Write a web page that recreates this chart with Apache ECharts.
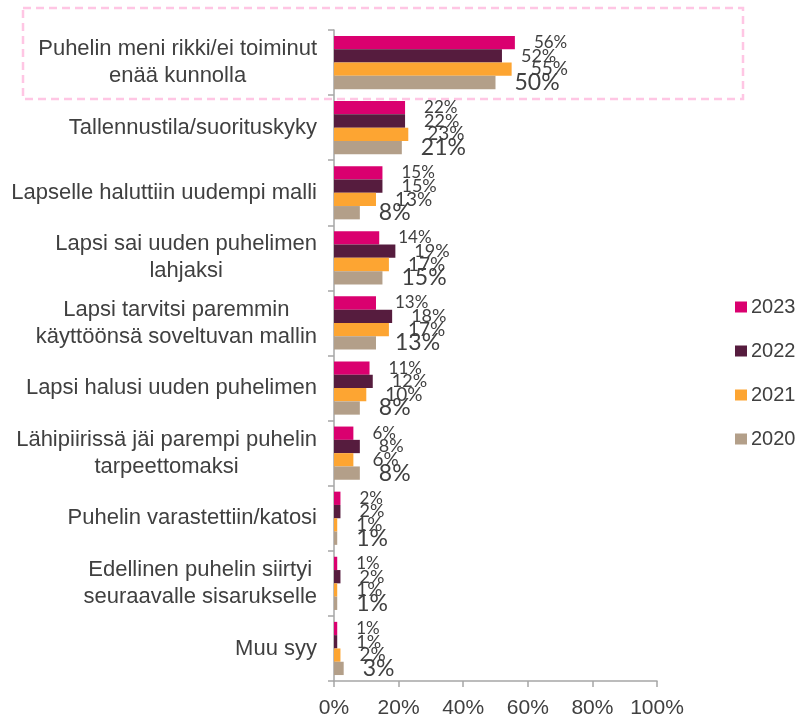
<!DOCTYPE html>
<html>
<head>
<meta charset="utf-8">
<script src="https://cdn.jsdelivr.net/npm/echarts@6/dist/echarts.min.js"></script>
<style>
  html, body { margin: 0; padding: 0; background: #fff; }
  #chart { width: 799px; height: 720px; }
</style>
</head>
<body>
<div id="chart"></div>
<script>
// categories, top to bottom
const categories = [
  "Puhelin meni rikki/ei toiminut\nenää kunnolla",
  "Tallennustila/suorituskyky",
  "Lapselle haluttiin uudempi malli",
  "Lapsi sai uuden puhelimen\nlahjaksi",
  "Lapsi tarvitsi paremmin\nkäyttöönsä soveltuvan mallin",
  "Lapsi halusi uuden puhelimen",
  "Lähipiirissä jäi parempi puhelin\ntarpeettomaksi",
  "Puhelin varastettiin/katosi",
  "Edellinen puhelin siirtyi\nseuraavalle sisarukselle",
  "Muu syy"
]

const years = ["2023", "2022", "2021", "2020"]

const values2023 = [56, 22, 15, 14, 13, 11, 6, 2, 1, 1]
const values2022 = [52, 22, 15, 19, 18, 12, 8, 2, 2, 1]
const values2021 = [55, 23, 13, 17, 17, 10, 6, 1, 1, 2]
const values2020 = [50, 21, 8, 15, 13, 8, 8, 1, 1, 3]

const xTicks = [0, 20, 40, 60, 80, 100]

const colors = ["#da006f", "#561c3e", "#fda532", "#b39f89"]
const labelSizes = [17, 18, 19, 23]
const seriesValues = [values2023, values2022, values2021, values2020]

const chart = echarts.init(document.getElementById("chart"))

// multi-line labels: lines centred inside the right-aligned block
function formatCategory(value) {
  if (value.indexOf("\n") < 0) return value
  return value.split("\n").map((line) => "{c|" + line + "}").join("\n")
}

const series = years.map((year, i) => ({
  name: year,
  type: "bar",
  data: seriesValues[i],
  barWidth: 13.3,
  barGap: "0%",
  itemStyle: { color: colors[i] },
  label: {
    show: true,
    position: "right",
    distance: 19,
    formatter: "{c}%",
    color: "#404040",
    fontFamily: "Lato",
    fontSize: labelSizes[i]
  }
}))

chart.setOption({
  animation: false,
  color: colors,
  grid: { left: 334, right: 142, top: 30, bottom: 39 },
  legend: {
    data: years,
    orient: "vertical",
    left: 730,
    top: 292,
    icon: "rect",
    itemWidth: 12,
    itemHeight: 11,
    itemGap: 24,
    textStyle: { fontFamily: "Liberation Sans, Arial", fontSize: 20, color: "#404040", padding: [0, 0, 0, -1] }
  },
  xAxis: {
    type: "value",
    min: xTicks[0],
    max: xTicks[xTicks.length - 1],
    interval: 20,
    splitLine: { show: false },
    axisLine: { show: true, lineStyle: { color: "#a6a6a6", width: 1.5 } },
    axisTick: { show: true, length: 6, lineStyle: { color: "#a6a6a6", width: 1.5 } },
    axisLabel: {
      formatter: "{value}%",
      margin: 17,
      color: "#404040",
      fontFamily: "Liberation Sans, Arial",
      fontSize: 21
    }
  },
  yAxis: {
    type: "category",
    data: categories,
    inverse: true,
    axisLine: { show: true, lineStyle: { color: "#a6a6a6", width: 1.5 } },
    axisTick: { show: true, length: 6, lineStyle: { color: "#a6a6a6", width: 1.5 } },
    axisLabel: {
      formatter: formatCategory,
      margin: 17,
      color: "#404040",
      fontFamily: "Liberation Sans, Arial",
      fontSize: 22,
      lineHeight: 27,
      rich: {
        c: {
          align: "center",
          color: "#404040",
          fontFamily: "Liberation Sans, Arial",
          fontSize: 22,
          lineHeight: 27
        }
      }
    }
  },
  // dashed highlight round the first row
  graphic: [{
    type: "rect",
    shape: { x: 23, y: 8, width: 720, height: 91 },
    style: { fill: "none", stroke: "#ffc6e4", lineWidth: 2.5, lineDash: [8, 5] },
    silent: true
  }],
  series: series
})
</script>
</body>
</html>
